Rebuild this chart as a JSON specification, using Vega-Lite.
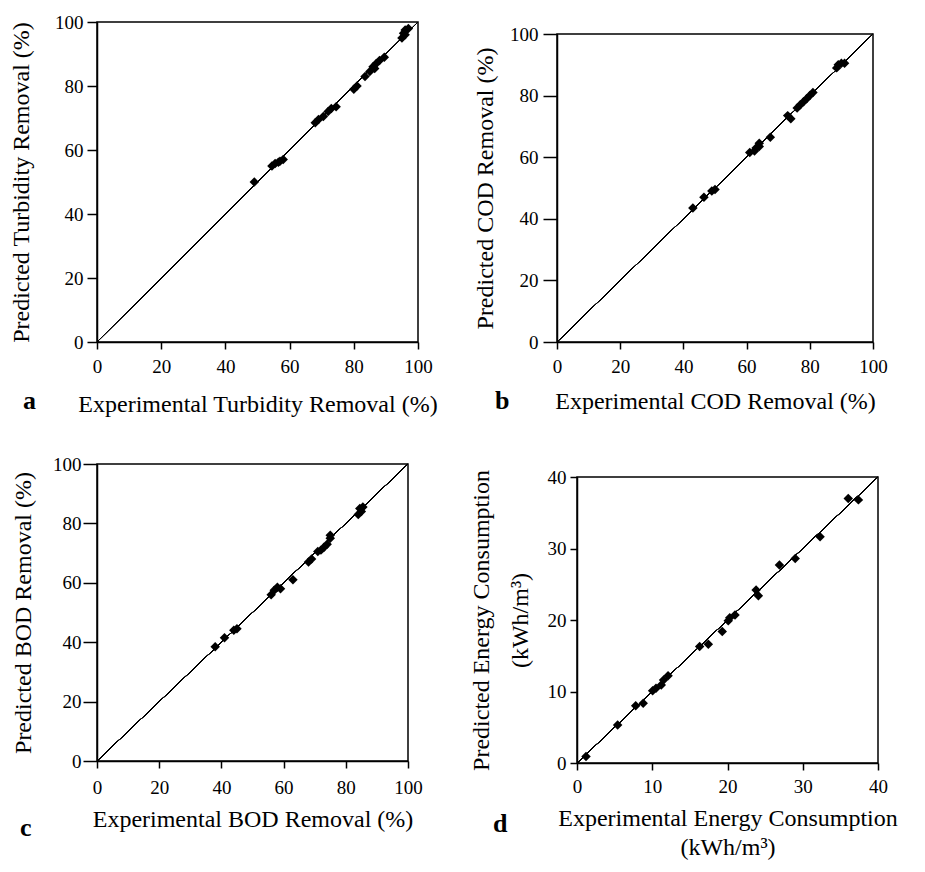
{
  "$schema": "https://vega.github.io/schema/vega-lite/v6.json",
  "background": "white",
  "padding": {"left": 8, "top": 12, "right": 0, "bottom": 0},
  "datasets": {
    "turbidity": [
      {"exp": 49, "pred": 50},
      {"exp": 54.5, "pred": 55},
      {"exp": 55.5, "pred": 55.8},
      {"exp": 57, "pred": 56.5},
      {"exp": 58, "pred": 57},
      {"exp": 56.5, "pred": 56.2},
      {"exp": 68, "pred": 68.5},
      {"exp": 69, "pred": 69.5},
      {"exp": 70.5, "pred": 70.5},
      {"exp": 72, "pred": 72},
      {"exp": 73, "pred": 73},
      {"exp": 74.5, "pred": 73.5},
      {"exp": 80, "pred": 79},
      {"exp": 81, "pred": 80},
      {"exp": 83.5, "pred": 83},
      {"exp": 85, "pred": 84.5},
      {"exp": 86, "pred": 86},
      {"exp": 87, "pred": 87},
      {"exp": 86.5, "pred": 85.5},
      {"exp": 88, "pred": 88},
      {"exp": 89.5, "pred": 89},
      {"exp": 95, "pred": 95},
      {"exp": 96, "pred": 96},
      {"exp": 96, "pred": 97.5},
      {"exp": 97, "pred": 98},
      {"exp": 95.5, "pred": 96.5}
    ],
    "cod": [
      {"exp": 43, "pred": 43.5},
      {"exp": 46.5, "pred": 47},
      {"exp": 49, "pred": 49},
      {"exp": 50, "pred": 49.5},
      {"exp": 61, "pred": 61.5},
      {"exp": 62.5, "pred": 62},
      {"exp": 63, "pred": 63},
      {"exp": 64, "pred": 64.5},
      {"exp": 64, "pred": 63.5},
      {"exp": 67.5, "pred": 66.5},
      {"exp": 73, "pred": 73.5},
      {"exp": 74, "pred": 72.5},
      {"exp": 76, "pred": 76},
      {"exp": 77, "pred": 77},
      {"exp": 78, "pred": 78},
      {"exp": 79, "pred": 79},
      {"exp": 80, "pred": 80},
      {"exp": 81, "pred": 81},
      {"exp": 88.5, "pred": 89},
      {"exp": 89, "pred": 90},
      {"exp": 90, "pred": 90.5},
      {"exp": 91, "pred": 90.5}
    ],
    "bod": [
      {"exp": 38, "pred": 38.5},
      {"exp": 41, "pred": 41.5},
      {"exp": 44, "pred": 44},
      {"exp": 45, "pred": 44.5},
      {"exp": 56, "pred": 56},
      {"exp": 57, "pred": 57.5},
      {"exp": 58, "pred": 58.5},
      {"exp": 59, "pred": 58},
      {"exp": 63, "pred": 61},
      {"exp": 68, "pred": 67},
      {"exp": 69, "pred": 68},
      {"exp": 71, "pred": 70.5},
      {"exp": 72, "pred": 71},
      {"exp": 73, "pred": 72},
      {"exp": 74, "pred": 73},
      {"exp": 75, "pred": 75},
      {"exp": 75, "pred": 76},
      {"exp": 84, "pred": 83},
      {"exp": 84.5, "pred": 85},
      {"exp": 85, "pred": 84},
      {"exp": 85.5, "pred": 85.5}
    ],
    "energy": [
      {"exp": 1.2, "pred": 0.9},
      {"exp": 5.4, "pred": 5.3},
      {"exp": 7.8, "pred": 8.0},
      {"exp": 8.8, "pred": 8.35},
      {"exp": 10.05, "pred": 10.1},
      {"exp": 10.5, "pred": 10.45},
      {"exp": 11.2, "pred": 10.9},
      {"exp": 11.5, "pred": 11.6},
      {"exp": 12.1, "pred": 12.2},
      {"exp": 16.3, "pred": 16.3},
      {"exp": 17.45, "pred": 16.6},
      {"exp": 19.3, "pred": 18.4},
      {"exp": 20.1, "pred": 19.9},
      {"exp": 20.3, "pred": 20.3},
      {"exp": 21.0, "pred": 20.7},
      {"exp": 23.8, "pred": 24.2},
      {"exp": 24.1, "pred": 23.4},
      {"exp": 26.9, "pred": 27.7},
      {"exp": 29.0, "pred": 28.6},
      {"exp": 32.3, "pred": 31.65},
      {"exp": 36.05, "pred": 37.0},
      {"exp": 37.4, "pred": 36.8}
    ]
  },
  "bounds": "flush",
  "align": "each",
  "spacing": 442,
  "vconcat": [
    {
      "bounds": "flush",
      "align": "each",
      "spacing": 139,
      "hconcat": [
        {
          "width": 321,
          "height": 320,
          "data": {"name": "turbidity"},
          "title": {"text": "a", "orient": "bottom", "anchor": "start", "frame": "group", "baseline": "alphabetic", "offset": 0, "dx": -74, "dy": -7},
          "layer": [
            {
              "mark": {"type": "rule", "color": "black", "strokeWidth": 1},
              "encoding": {"x": {"datum": 0}, "y": {"datum": 0}, "x2": {"datum": 100}, "y2": {"datum": 100}}
            },
            {
              "mark": {"type": "point", "shape": "diamond", "filled": true, "color": "black", "opacity": 1, "size": 90},
              "encoding": {
                "x": {"field": "exp", "type": "quantitative", "scale": {"domain": [0, 100], "nice": false}, "axis": {"title": "Experimental Turbidity Removal (%)", "values": [0, 20, 40, 60, 80, 100], "tickSize": 7, "labelPadding": 8, "titlePadding": 16}},
                "y": {"field": "pred", "type": "quantitative", "scale": {"domain": [0, 100], "nice": false}, "axis": {"title": "Predicted Turbidity Removal (%)", "values": [0, 20, 40, 60, 80, 100], "tickSize": 10, "labelPadding": 4, "titlePadding": 21}}
              }
            }
          ]
        },
        {
          "bounds": "flush",
          "align": "each",
          "spacing": 0,
          "vconcat": [
            {"width": 10, "height": 12, "data": {"values": []}, "mark": "point", "encoding": {}, "view": {"stroke": null}},
            {
              "width": 316,
              "height": 308,
              "data": {"name": "cod"},
              "title": {"text": "b", "orient": "bottom", "anchor": "start", "frame": "group", "baseline": "alphabetic", "offset": 0, "dx": -62, "dy": -4},
              "layer": [
                {
                  "mark": {"type": "rule", "color": "black", "strokeWidth": 1},
                  "encoding": {"x": {"datum": 0}, "y": {"datum": 0}, "x2": {"datum": 100}, "y2": {"datum": 100}}
                },
                {
                  "mark": {"type": "point", "shape": "diamond", "filled": true, "color": "black", "opacity": 1, "size": 90},
                  "encoding": {
                    "x": {"field": "exp", "type": "quantitative", "scale": {"domain": [0, 100], "nice": false}, "axis": {"title": "Experimental COD Removal (%)", "values": [0, 20, 40, 60, 80, 100], "tickSize": 7, "labelPadding": 8, "titlePadding": 13}},
                    "y": {"field": "pred", "type": "quantitative", "scale": {"domain": [0, 100], "nice": false}, "axis": {"title": "Predicted COD Removal (%)", "values": [0, 20, 40, 60, 80, 100], "tickSize": 14, "labelPadding": 5, "titlePadding": 12}}
                  }
                }
              ]
            }
          ]
        }
      ]
    },
    {
      "bounds": "flush",
      "align": "each",
      "spacing": 169,
      "hconcat": [
        {
          "width": 311,
          "height": 297,
          "data": {"name": "bod"},
          "title": {"text": "c", "orient": "bottom", "anchor": "start", "frame": "group", "baseline": "alphabetic", "offset": 0, "dx": -77, "dy": 5},
          "layer": [
            {
              "mark": {"type": "rule", "color": "black", "strokeWidth": 1},
              "encoding": {"x": {"datum": 0}, "y": {"datum": 0}, "x2": {"datum": 100}, "y2": {"datum": 100}}
            },
            {
              "mark": {"type": "point", "shape": "diamond", "filled": true, "color": "black", "opacity": 1, "size": 90},
              "encoding": {
                "x": {"field": "exp", "type": "quantitative", "scale": {"domain": [0, 100], "nice": false}, "axis": {"title": "Experimental BOD Removal (%)", "values": [0, 20, 40, 60, 80, 100], "tickSize": 7, "labelPadding": 10, "titlePadding": 10}},
                "y": {"field": "pred", "type": "quantitative", "scale": {"domain": [0, 100], "nice": false}, "axis": {"title": "Predicted BOD Removal (%)", "values": [0, 20, 40, 60, 80, 100], "tickSize": 14, "labelPadding": 2, "titlePadding": 17}}
              }
            }
          ]
        },
        {
          "bounds": "flush",
          "align": "each",
          "spacing": 0,
          "vconcat": [
            {"width": 10, "height": 13, "data": {"values": []}, "mark": "point", "encoding": {}, "view": {"stroke": null}},
            {
              "width": 301,
              "height": 286,
              "data": {"name": "energy"},
              "title": {"text": "d", "orient": "bottom", "anchor": "start", "frame": "group", "baseline": "alphabetic", "offset": 0, "dx": -84, "dy": -27},
              "layer": [
                {
                  "mark": {"type": "rule", "color": "black", "strokeWidth": 1},
                  "encoding": {"x": {"datum": 0}, "y": {"datum": 0}, "x2": {"datum": 40}, "y2": {"datum": 40}}
                },
                {
                  "mark": {"type": "point", "shape": "diamond", "filled": true, "color": "black", "opacity": 1, "size": 90},
                  "encoding": {
                    "x": {"field": "exp", "type": "quantitative", "scale": {"domain": [0, 40], "nice": false}, "axis": {"title": ["Experimental Energy Consumption", "(kWh/m³)"], "titleLineHeight": 29, "values": [0, 10, 20, 30, 40], "tickSize": 7, "labelPadding": 7, "titlePadding": 10}},
                    "y": {"field": "pred", "type": "quantitative", "scale": {"domain": [0, 40], "nice": false}, "axis": {"title": ["Predicted Energy Consumption", "(kWh/m³)"], "titleLineHeight": 39, "values": [0, 10, 20, 30, 40], "tickSize": 7, "labelPadding": 4, "titlePadding": 15}}
                  }
                }
              ]
            }
          ]
        }
      ]
    }
  ],
  "config": {
    "view": {"stroke": "black", "strokeWidth": 1.5},
    "axis": {
      "grid": false,
      "domainColor": "black",
      "domainWidth": 1.5,
      "tickColor": "black",
      "tickWidth": 1.5,
      "labelFont": "Liberation Serif",
      "labelFontSize": 19,
      "labelColor": "black",
      "labelFlush": false,
      "labelOverlap": false,
      "titleFont": "Liberation Serif",
      "titleFontSize": 24,
      "titleFontWeight": "normal",
      "titleColor": "black"
    },
    "title": {"font": "Liberation Serif", "fontSize": 26, "fontWeight": "bold", "color": "black"}
  }
}
